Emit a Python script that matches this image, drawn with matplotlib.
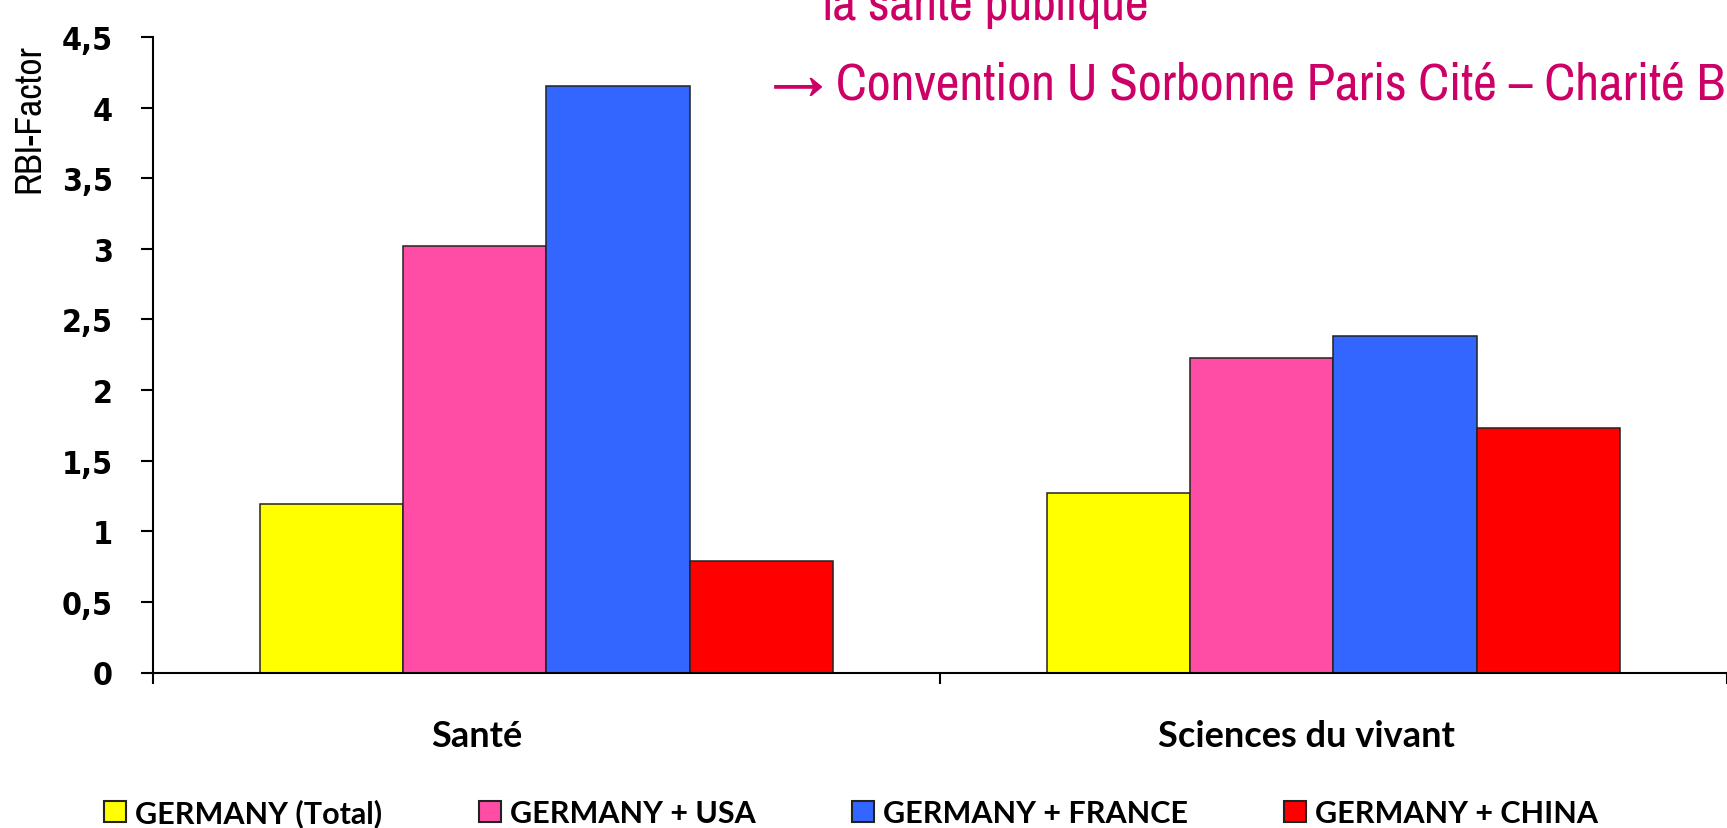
import matplotlib
matplotlib.use("Agg")
import matplotlib.pyplot as plt
from matplotlib import font_manager as fm
from matplotlib.patches import Patch
import matplotlib.transforms as mtransforms

# ---- data ----
categories = ["Santé", "Sciences du vivant"]
series_names = ["GERMANY (Total)", "GERMANY + USA", "GERMANY + FRANCE", "GERMANY + CHINA"]
sante_values = [1.19, 3.02, 4.15, 0.79]
vivant_values = [1.27, 2.23, 2.38, 1.73]
series_colors = ["#FFFF00", "#FF4DA6", "#3366FF", "#FF0000"]
y_ticks = [0, 0.5, 1, 1.5, 2, 2.5, 3, 3.5, 4, 4.5]
y_tick_labels = ["0", "0,5", "1", "1,5", "2", "2,5", "3", "3,5", "4", "4,5"]
y_label = "RBI-Factor"
title_line1 = "la santé publique"
title_line2 = "\u2192 Convention U Sorbonne Paris Cité \u2013 Charité B"

# ---- fonts ----
avail = {f.name for f in fm.fontManager.ttflist}
def pick(*cands):
    for c in cands:
        if c in avail:
            return c
    return "DejaVu Sans"
narrow = pick("Liberation Sans Narrow", "Arial Narrow", "Archivo Narrow", "Liberation Sans")
boldfam = pick("Lato", "Open Sans", "DejaVu Sans")
tick_fp = fm.FontProperties(family="DejaVu Sans", weight="bold", stretch="condensed", size=23)

W, H = 1727, 829
fig = plt.figure(figsize=(W / 100, H / 100), dpi=100)
ax_left, ax_bottom = 152.7, 673.5
ax_top = 38.0
ax = fig.add_axes([ax_left / W, (H - ax_bottom) / H, (W - ax_left) / W, (ax_bottom - ax_top) / H])

n = len(series_names)
bar_w = 0.182
data = [sante_values, vivant_values]
for k in range(n):
    xs = [i + (k - (n - 1) / 2) * bar_w for i in range(len(categories))]
    vals = [data[i][k] for i in range(len(categories))]
    ax.bar(xs, vals, width=bar_w, color=series_colors[k], edgecolor="#222222", linewidth=1.1, zorder=2)

ax.set_xlim(-0.5, len(categories) - 0.5)
ax.set_ylim(0, 4.5)
ax.set_yticks(y_ticks)
ax.set_yticklabels(y_tick_labels, fontproperties=tick_fp)
ax.set_xticks([i - 0.5 for i in range(len(categories) + 1)])
ax.set_xticklabels([])
ax.tick_params(axis="y", direction="out", length=8.6, width=1.5, pad=20, colors="black")
ax.tick_params(axis="x", direction="out", length=8, width=1.5)
for s in ["top", "right"]:
    ax.spines[s].set_visible(False)
for s in ["left", "bottom"]:
    ax.spines[s].set_linewidth(1.5)
    ax.spines[s].set_color("black")

# category labels (placed as in the reference)
cat_label_x = [-0.088, 0.966]
trans = mtransforms.blended_transform_factory(ax.transData, ax.transAxes)
for cx, lab in zip(cat_label_x, categories):
    ax.text(cx, -(746.7 - ax_bottom) / (ax_bottom - ax_top), lab, transform=trans,
            ha="center", va="baseline", fontsize=26, fontweight="bold", family=boldfam)

# y label
fig.text(29 / W, 1 - 44 / H, y_label, rotation=90, ha="center", va="top",
         fontsize=27, family=[narrow, "DejaVu Sans"])

# slide text (magenta)
fig.text(823 / W, 1 - 20 / H, title_line1, ha="left", va="baseline",
         fontsize=37.5, color="#CC0066", family=[narrow, "DejaVu Sans"])
fig.text(772 / W, 1 - 100 / H, title_line2, ha="left", va="baseline",
         fontsize=37.5, color="#CC0066", family=[narrow, "DejaVu Sans"])

# legend
handles = [Patch(facecolor=c, edgecolor="#222222", linewidth=1.5) for c in series_colors]
fig.legend(handles, series_names, loc="center left", bbox_to_anchor=(104 / W, 1 - 814 / H),
           ncol=4, frameon=False, prop=fm.FontProperties(family=boldfam, weight="bold", size=22),
           handlelength=0.72, handleheight=0.7, handletextpad=0.3, columnspacing=3.15,
           borderpad=0, borderaxespad=0)

fig.savefig("out.png", dpi=100)
